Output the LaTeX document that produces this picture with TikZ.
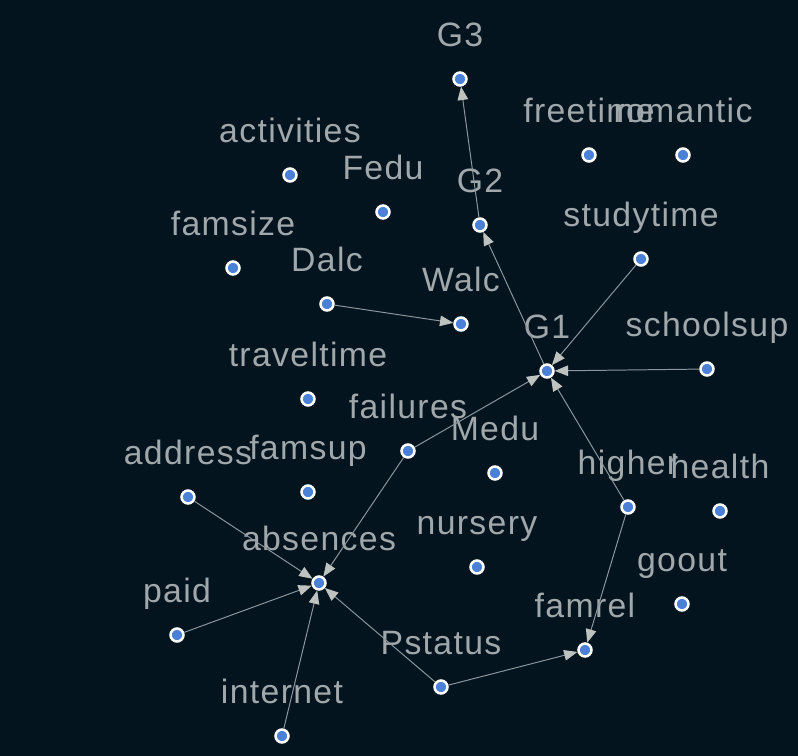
\documentclass[tikz,border=0pt]{standalone}
\usepackage{fontspec}
\setmainfont{Liberation Sans}[LetterSpace=4]
\usetikzlibrary{arrows.meta}
\definecolor{bgnavy}{RGB}{3,20,31}
\definecolor{nodeblue}{RGB}{74,128,214}
\definecolor{labelgrey}{RGB}{160,168,172}
\definecolor{edgegrey}{RGB}{140,150,156}
\definecolor{arrowgrey}{RGB}{190,195,192}
\tikzset{
  vertex/.style={circle,draw=white,fill=nodeblue,line width=1.8pt,minimum size=9.2pt,inner sep=0pt},
  vlabel/.style={text=labelgrey,font=\fontsize{24}{24}\selectfont,inner sep=0pt,anchor=base},
  link/.style={draw=edgegrey,line width=0.7pt,-{Triangle[length=9.5pt,width=7.5pt,color=arrowgrey]}}
}

\begin{document}
\begin{tikzpicture}[x=0.025cm,y=-0.025cm,label distance=17.5pt]
\fill[bgnavy] (0,0) rectangle (798,756);
\node[vertex,label={[vlabel]above:G3}] (G3) at (460,79) {};
\node[vertex,label={[vlabel]above:freetime}] (freetime) at (589,155) {};
\node[vertex,label={[vlabel]above:romantic}] (romantic) at (683,155) {};
\node[vertex,label={[vlabel]above:activities}] (activities) at (290,175) {};
\node[vertex,label={[vlabel]above:Fedu}] (Fedu) at (383,212) {};
\node[vertex,label={[vlabel]above:G2}] (G2) at (480,225) {};
\node[vertex,label={[vlabel]above:studytime}] (studytime) at (641,259) {};
\node[vertex,label={[vlabel]above:famsize}] (famsize) at (233,268) {};
\node[vertex,label={[vlabel]above:Dalc}] (Dalc) at (327,304) {};
\node[vertex,label={[vlabel]above:Walc}] (Walc) at (461,324) {};
\node[vertex,label={[vlabel]above:G1}] (G1) at (547,371) {};
\node[vertex,label={[vlabel]above:schoolsup}] (schoolsup) at (707,369) {};
\node[vertex,label={[vlabel]above:traveltime}] (traveltime) at (308,399) {};
\node[vertex,label={[vlabel]above:failures}] (failures) at (408,451) {};
\node[vertex,label={[vlabel]above:Medu}] (Medu) at (495,473) {};
\node[vertex,label={[vlabel]above:address}] (address) at (188,497) {};
\node[vertex,label={[vlabel]above:famsup}] (famsup) at (308,492) {};
\node[vertex,label={[vlabel]above:higher}] (higher) at (628,507) {};
\node[vertex,label={[vlabel]above:health}] (health) at (720,511) {};
\node[vertex,label={[vlabel]above:absences}] (absences) at (319,583) {};
\node[vertex,label={[vlabel]above:nursery}] (nursery) at (477,567) {};
\node[vertex,label={[vlabel]above:goout}] (goout) at (682,604) {};
\node[vertex,label={[vlabel]above:famrel}] (famrel) at (585,650) {};
\node[vertex,label={[vlabel]above:paid}] (paid) at (177,635) {};
\node[vertex,label={[vlabel]above:Pstatus}] (Pstatus) at (441,687) {};
\node[vertex,label={[vlabel]above:internet}] (internet) at (282,736) {};
\draw[link] (Dalc) -- (Walc);
\draw[link] (G2) -- (G3);
\draw[link] (G1) -- (G2);
\draw[link] (studytime) -- (G1);
\draw[link] (schoolsup) -- (G1);
\draw[link] (higher) -- (G1);
\draw[link] (failures) -- (G1);
\draw[link] (failures) -- (absences);
\draw[link] (address) -- (absences);
\draw[link] (paid) -- (absences);
\draw[link] (internet) -- (absences);
\draw[link] (Pstatus) -- (absences);
\draw[link] (higher) -- (famrel);
\draw[link] (Pstatus) -- (famrel);
\end{tikzpicture}
\end{document}
